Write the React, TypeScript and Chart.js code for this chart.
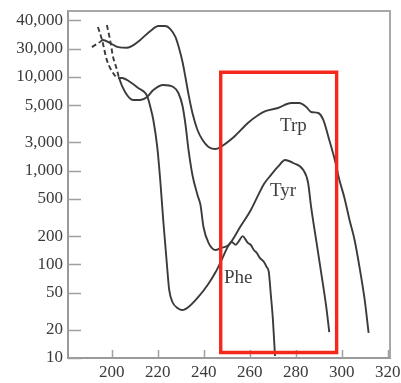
import React, { useEffect, useRef } from "react";
import { Chart, registerables } from "chart.js";

Chart.register(...registerables);

// Absorption spectra: wavelength (nm) and molar absorptivity
const trpNm = [191.4, 194.9, 196.2, 199.3, 202.8, 206.7, 208.9, 212.4, 216.8, 220.3, 223.3, 225.5, 227.7, 229.5, 230.8, 232.1, 233.4, 235.1, 237.3, 239.5, 242.1, 245.2, 247.4, 253.1, 259.2, 263.6, 267.1, 272.3, 278.0, 281.5, 284.6, 286.7, 289.8, 292.0, 294.6, 296.8, 299.0, 301.2, 303.4, 305.6, 307.8, 310.0, 311.7];
const trpEps = [20800, 23600, 24800, 23000, 20800, 20500, 21400, 24800, 30900, 34900, 34900, 32400, 26700, 19400, 14400, 9800, 6500, 4120, 2710, 2120, 1790, 1700, 1790, 2280, 3220, 3900, 4330, 4660, 5260, 5260, 4770, 4220, 4120, 3470, 2120, 1360, 794, 511, 297, 182, 91.5, 41.6, 18.5];

const tyrNm = [197.9, 199.3, 200.6, 202.3, 203.2, 205.8, 209.3, 212.4, 215.4, 218.1, 222.4, 226.8, 229.0, 230.8, 232.1, 233.4, 235.1, 237.3, 238.6, 239.9, 242.1, 245.2, 247.4, 250.9, 256.1, 260.5, 263.9, 266.2, 269.3, 272.3, 275.4, 278.9, 283.3, 285.4, 286.7, 288.9, 291.1, 293.3, 294.6];
const tyrEps = [35800, 24800, 16300, 11900, 9730, 6900, 5670, 5670, 6110, 7250, 8200, 7800, 6730, 4890, 3070, 1660, 898, 550, 430, 250, 169, 142, 149, 161, 256, 380, 560, 720, 900, 1100, 1297, 1205, 1014, 738, 409, 181, 80.7, 35.0, 18.9];

const pheNm = [194.0, 195.8, 197.9, 200.6, 202.8, 204.5, 208.0, 211.5, 215.4, 216.8, 218.1, 219.8, 221.1, 222.4, 223.3, 224.2, 225.0, 226.4, 228.6, 230.8, 233.4, 237.3, 241.7, 245.2, 247.4, 250.9, 252.2, 253.9, 255.3, 257.0, 258.3, 259.2, 260.5, 261.8, 263.1, 264.4, 266.2, 267.4, 268.3, 269.2, 270.1, 271.0];
const pheEps = [34100, 24800, 15100, 11000, 9730, 9730, 8830, 7620, 6260, 4770, 3470, 1790, 794, 297, 161, 86.9, 53.2, 39.6, 34.2, 32.5, 35.0, 43.7, 60.1, 82.8, 106, 161, 173, 161, 177, 200, 182, 169, 161, 142, 132, 117, 106, 93.5, 82.8, 47, 25.5, 10.5];

// Short-wavelength stretches (uncertain data) are drawn dashed up to these wavelengths
const trpDashEnd = 194.9;
const tyrDashEnd = 203.2;
const pheDashEnd = 202.8;

// Axis ticks as printed
const xTickValues = [200, 220, 240, 260, 280, 300, 320];
const yTickValues = [10, 20, 50, 100, 200, 500, 1000, 2000, 5000, 10000, 20000, 40000];
const yTickLabels = ["10", "20", "50", "100", "200", "500", "1,000", "3,000", "5,000", "10,000", "30,000", "40,000"];

// Highlighted window (nm range, absorptivity range)
const boxNm = [247.4, 297.8];
const boxEps = [11.45, 11200];

// Curve names and where they are written
const curveNames = ["Trp", "Tyr", "Phe"];
const curveNameNm = [279, 274.5, 255];
const curveNameEps = [2990, 605, 71.5];

const SERIF = '"Liberation Serif", "DejaVu Serif", serif';
const INK = "#3b3b3b";
const AXIS = "#9a9a9a";

const toPoints = (xs: number[], ys: number[]) => xs.map((x, i) => ({ x, y: ys[i] }));

const dashedBelow = (limit: number) => (ctx: any) =>
  ctx.p1.parsed.x <= limit ? [5, 3] : undefined;

const decorPlugin = {
  id: "decor",
  beforeDatasetsDraw(chart: any) {
    const { ctx, chartArea, scales } = chart;
    const { left, right, top, bottom } = chartArea;
    ctx.save();
    // frame on top and right
    ctx.strokeStyle = "#a8a8a8";
    ctx.lineWidth = 2;
    ctx.beginPath();
    ctx.moveTo(left, top);
    ctx.lineTo(right, top);
    ctx.lineTo(right, bottom);
    ctx.stroke();
    // inward tick marks
    ctx.strokeStyle = "#a0a0a0";
    ctx.lineWidth = 1.5;
    ctx.beginPath();
    yTickValues.forEach((v) => {
      const y = Math.round(scales.y.getPixelForValue(v)) + 0.5;
      ctx.moveTo(left, y);
      ctx.lineTo(left + 13, y);
    });
    xTickValues.forEach((v) => {
      const x = Math.round(scales.x.getPixelForValue(v)) + 0.5;
      ctx.moveTo(x, bottom);
      ctx.lineTo(x, bottom - 8);
    });
    ctx.stroke();
    ctx.restore();
  },
  afterDatasetsDraw(chart: any) {
    const { ctx, scales } = chart;
    ctx.save();
    ctx.fillStyle = "#404040";
    ctx.font = `19px ${SERIF}`;
    ctx.textAlign = "center";
    ctx.textBaseline = "middle";
    curveNames.forEach((name, i) => {
      ctx.fillText(
        name,
        scales.x.getPixelForValue(curveNameNm[i]),
        scales.y.getPixelForValue(curveNameEps[i])
      );
    });
    ctx.restore();
  },
};

export default function App() {
  const canvasRef = useRef<HTMLCanvasElement>(null);

  useEffect(() => {
    const canvas = canvasRef.current;
    if (!canvas) return;
    const curve = (xs: number[], ys: number[], dashEnd: number) => ({
      data: toPoints(xs, ys),
      borderColor: INK,
      borderWidth: 1.9,
      pointRadius: 0,
      cubicInterpolationMode: "monotone" as const,
      segment: { borderDash: dashedBelow(dashEnd) },
    });

    const chart = new Chart(canvas, {
      type: "line",
      data: {
        datasets: [
          {
            data: [
              { x: boxNm[0], y: boxEps[1] },
              { x: boxNm[1], y: boxEps[1] },
              { x: boxNm[1], y: boxEps[0] },
              { x: boxNm[0], y: boxEps[0] },
              { x: boxNm[0], y: boxEps[1] },
            ],
            borderColor: "#f5281c",
            borderWidth: 3.4,
            pointRadius: 0,
            tension: 0,
            borderJoinStyle: "miter",
            borderCapStyle: "square",
            order: -1,
            clip: false,
          } as any,
          curve(trpNm, trpEps, trpDashEnd),
          curve(tyrNm, tyrEps, tyrDashEnd),
          curve(pheNm, pheEps, pheDashEnd),
        ],
      },
      options: {
        animation: false,
        responsive: false,
        devicePixelRatio: 1,
        parsing: false,
        layout: { padding: { top: 11, right: 11, left: 0, bottom: 0 } },
        plugins: { legend: { display: false }, tooltip: { enabled: false } },
        scales: {
          x: {
            type: "linear",
            min: 181,
            max: 321,
            afterBuildTicks: (s: any) => {
              s.ticks = xTickValues.map((value) => ({ value }));
            },
            afterFit: (s: any) => {
              s.height = 25;
              s.paddingLeft = 0;
              s.paddingRight = 0;
            },
            grid: { drawOnChartArea: false, drawTicks: false },
            border: { color: AXIS, width: 2 },
            ticks: {
              autoSkip: false,
              maxRotation: 0,
              padding: 4,
              color: INK,
              font: { family: SERIF, size: 17 },
            },
          },
          y: {
            type: "logarithmic",
            min: 10,
            max: 50500,
            afterBuildTicks: (s: any) => {
              s.ticks = yTickValues.map((value) => ({ value }));
            },
            afterFit: (s: any) => {
              s.width = 68;
              s.paddingTop = 0;
              s.paddingBottom = 0;
            },
            grid: { drawOnChartArea: false, drawTicks: false },
            border: { color: AXIS, width: 2 },
            ticks: {
              autoSkip: false,
              padding: 5,
              color: INK,
              font: { family: SERIF, size: 17 },
              callback: (value: any) => {
                const i = yTickValues.indexOf(Number(value));
                return i >= 0 ? yTickLabels[i] : "";
              },
            },
          },
        },
      },
      plugins: [decorPlugin],
    });
    return () => chart.destroy();
  }, []);

  return (
    <div style={{ position: "fixed", left: 0, top: 0, width: 401, height: 383, background: "#ffffff" }}>
      <canvas ref={canvasRef} width={401} height={383} style={{ width: 401, height: 383, display: "block" }} />
    </div>
  );
}
